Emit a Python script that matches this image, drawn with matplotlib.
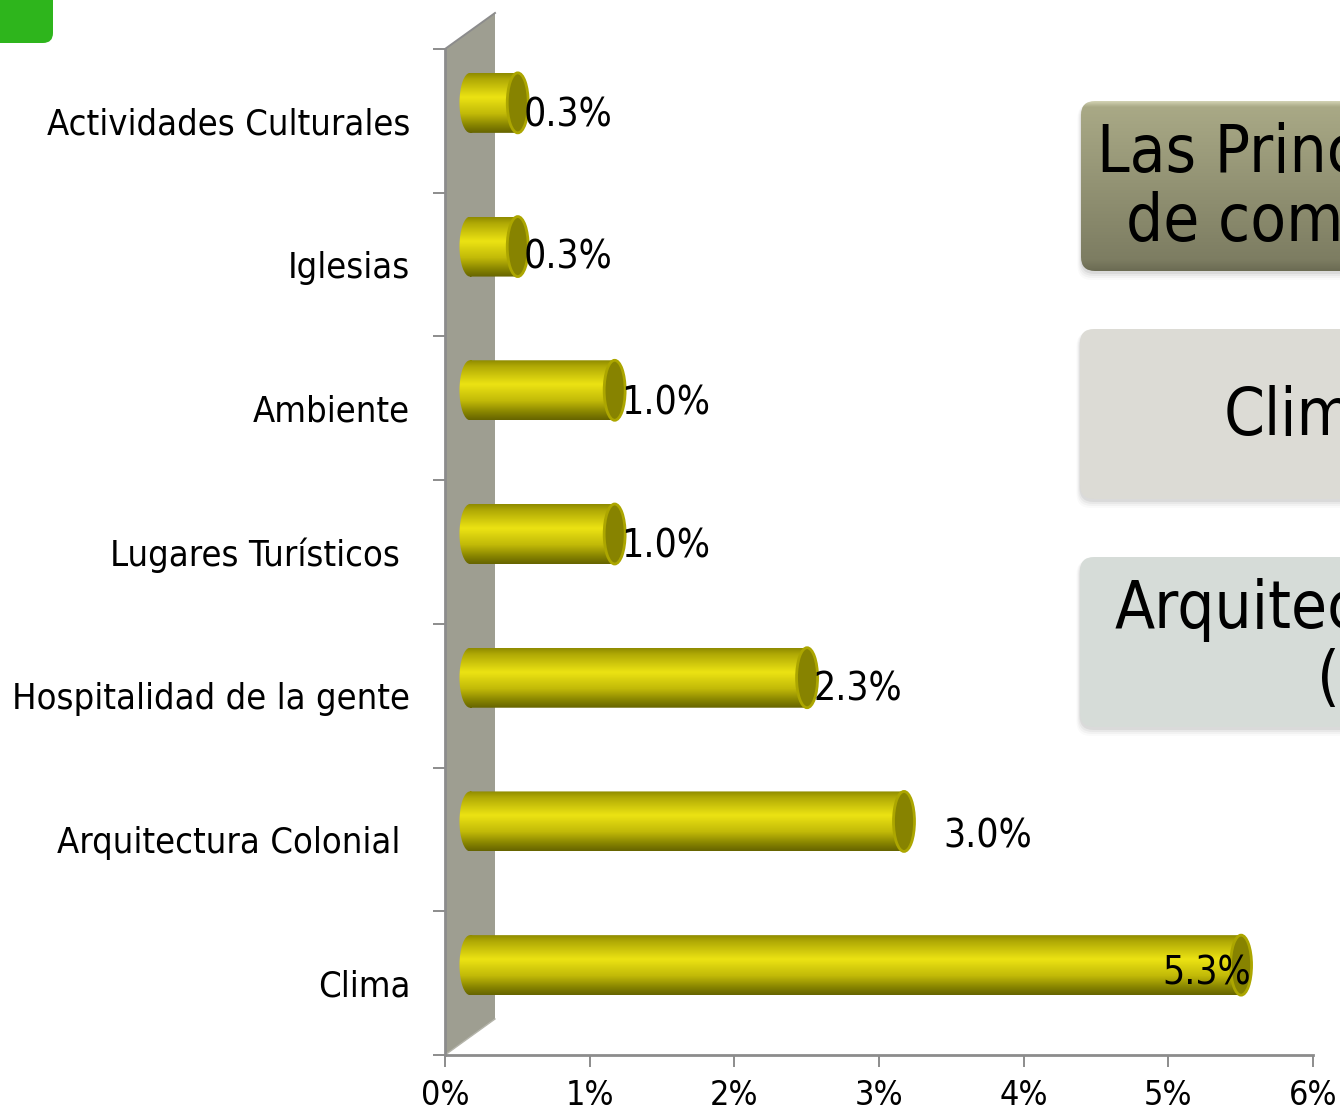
import matplotlib

matplotlib.use("Agg")

import matplotlib.pyplot as plt
import numpy as np
from matplotlib.colors import LinearSegmentedColormap
from matplotlib.patches import Ellipse, FancyBboxPatch, PathPatch, Polygon
from matplotlib.path import Path
from matplotlib.transforms import Affine2D

plt.rcParams["font.family"] = ["DejaVu Sans"]
plt.rcParams["font.stretch"] = "condensed"

categories = [
    "Clima",
    "Arquitectura Colonial ",
    "Hospitalidad de la gente",
    "Lugares Turísticos ",
    "Ambiente",
    "Iglesias",
    "Actividades Culturales",
]
values = [5.33, 3.0, 2.33, 1.0, 1.0, 0.33, 0.33]
value_labels = ["5.3%", "3.0%", "2.3%", "1.0%", "1.0%", "0.3%", "0.3%"]
x_ticks = [0, 1, 2, 3, 4, 5, 6]
x_tick_labels = ["0%", "1%", "2%", "3%", "4%", "5%", "6%"]
label_offsets = [(-54, 10), (64, 3), (31, 6), (31, 6), (31, 5), (31, 7), (31, 5)]

panel_lines = [
    [("Las Principales", 1097, 154), ("de compra", 1126, 223)],
    [("Clima", 1224, 417)],
    [("Arquitectura", 1115, 610), ("(3.0%)", 1317, 680)],
]

BAR_CMAP = LinearSegmentedColormap.from_list(
    "bar",
    [(0, "#8f8b00"), (0.1, "#b0a905"), (0.4, "#ece313"), (0.68, "#c2ba08"), (0.88, "#858200"), (1, "#666400")],
)
OLIVE_CMAP = LinearSegmentedColormap.from_list(
    "olive", [(0, "#cfcfb0"), (0.03, "#a9a986"), (0.93, "#7d7d62"), (1, "#6a6a52")]
)

WIDTH, HEIGHT = 1340, 1112
fig = plt.figure(figsize=(WIDTH / 100, HEIGHT / 100), dpi=100)
ax = fig.add_axes([445 / WIDTH, (HEIGHT - 1055) / HEIGHT, 868 / WIDTH, 1006 / HEIGHT])
ax.set_xlim(0, 6)
ax.set_ylim(-0.5, 6.5)

px_x = 6 / 868
px_y = 7 / 1006

# back wall of the 3D chart
wall_dx, wall_dy = 50 * px_x, 36 * px_y
ax.add_patch(
    Polygon(
        [(0, -0.5), (wall_dx, -0.5 + wall_dy), (wall_dx, 6.5 + wall_dy), (0, 6.5)],
        closed=True,
        facecolor="#9e9e91",
        edgecolor="none",
        clip_on=False,
        zorder=1,
    )
)
ax.plot([0, wall_dx], [6.5, 6.5 + wall_dy], color="#8c8c8c", lw=1.4, clip_on=False, zorder=2)
ax.plot([0, wall_dx], [-0.5, -0.5 + wall_dy], color="#b4b4aa", lw=1.0, clip_on=False, zorder=2)

# cylinders
shift_x, shift_y = 25 * px_x, 18 * px_y
cap_w, bar_h = 21 * px_x, 60 * px_y
gradient = np.linspace(0, 1, 128).reshape(-1, 1)
for i, value in enumerate(values):
    x0 = shift_x
    x1 = shift_x + value
    yc = i + shift_y
    body = Path.make_compound_path(
        Path.unit_rectangle().transformed(Affine2D().scale(x1 - x0, bar_h).translate(x0, yc - bar_h / 2)),
        Path.unit_circle().transformed(Affine2D().scale(cap_w / 2, bar_h / 2).translate(x0, yc)),
    )
    clip = PathPatch(body, transform=ax.transData, facecolor="none", edgecolor="none")
    ax.add_patch(clip)
    image = ax.imshow(
        gradient,
        cmap=BAR_CMAP,
        aspect="auto",
        origin="upper",
        extent=(x0 - cap_w, x1, yc - bar_h / 2, yc + bar_h / 2),
        zorder=3,
        interpolation="bilinear",
    )
    image.set_clip_path(clip)
    ax.add_patch(
        Ellipse((x1, yc), cap_w, bar_h, facecolor="#878300", edgecolor="#aca600", lw=2, zorder=4)
    )

ax.set_xlim(0, 6)
ax.set_ylim(-0.5, 6.5)

for i, value in enumerate(values):
    off_x, off_y = label_offsets[i]
    ax.annotate(
        value_labels[i],
        xy=(value, i),
        xytext=(off_x * 0.72, off_y * 0.72),
        textcoords="offset points",
        ha="left",
        va="center",
        fontsize=28,
        color="black",
        zorder=5,
    )

ax.spines[["top", "right"]].set_visible(False)
ax.spines[["left", "bottom"]].set_color("#8c8c8c")
ax.spines[["left", "bottom"]].set_linewidth(2)
ax.patch.set_alpha(0)
ax.set_xticks(x_ticks, labels=x_tick_labels)
ax.set_yticks(np.arange(8) - 0.5, labels=[])
ax.set_yticks(np.arange(7), labels=categories, minor=True)
ax.tick_params(axis="x", length=8.6, width=1.4, color="#8c8c8c", labelsize=24.5, pad=9)
ax.tick_params(axis="y", which="major", length=8.6, width=1.4, color="#8c8c8c")
ax.tick_params(axis="y", which="minor", length=0, labelsize=26, pad=25)

# overlay in pixel coordinates for the side panels and the green tag
overlay = fig.add_axes([0, 0, 1, 1], zorder=-1)
overlay.set_xlim(0, WIDTH)
overlay.set_ylim(HEIGHT, 0)
overlay.axis("off")

overlay.add_patch(
    FancyBboxPatch(
        (-30, -30), 83, 73, boxstyle="round,pad=0,rounding_size=10", facecolor="#2eb51c", edgecolor="none"
    )
)

panels = [(1081, 101, 171, None), (1080, 329, 171, "#dcdbd5"), (1080, 557, 171, "#d6dcd8")]
for (px, py, ph, colour), lines in zip(panels, panel_lines):
    for grow, alpha in [(7, 0.02), (5, 0.03), (3, 0.04), (1, 0.06)]:
        overlay.add_patch(
            FancyBboxPatch(
                (px - grow / 2, py + 3),
                400,
                ph + grow - 2,
                boxstyle="round,pad=0,rounding_size=14",
                facecolor="black",
                edgecolor="none",
                alpha=alpha,
                zorder=1,
            )
        )
    box = FancyBboxPatch(
        (px, py),
        400,
        ph - 1,
        boxstyle="round,pad=0,rounding_size=14",
        facecolor=colour or "none",
        edgecolor="none",
        zorder=2,
    )
    overlay.add_patch(box)
    if colour is None:
        image = overlay.imshow(
            gradient,
            cmap=OLIVE_CMAP,
            aspect="auto",
            extent=(px, px + 400, py + ph, py),
            origin="upper",
            interpolation="bilinear",
            zorder=2,
        )
        image.set_clip_path(box)
    for text, tx, ty in lines:
        overlay.text(tx, ty, text, fontsize=47, ha="left", va="center", color="black", zorder=3)

overlay.set_xlim(0, WIDTH)
overlay.set_ylim(HEIGHT, 0)

fig.savefig("out.png", dpi=100)
